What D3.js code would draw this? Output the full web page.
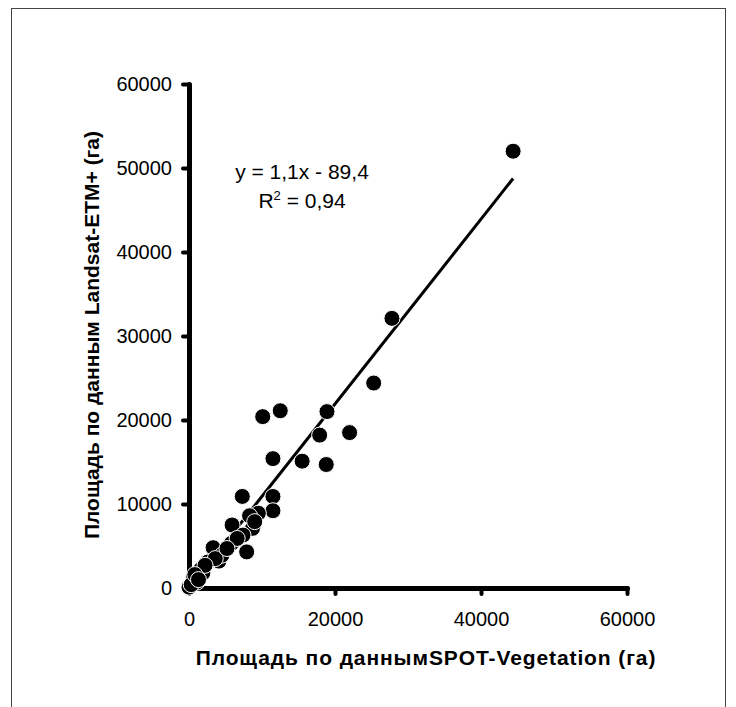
<!DOCTYPE html>
<html>
<head>
<meta charset="utf-8">
<script src="https://cdn.jsdelivr.net/npm/d3@7"></script>
<style>
  body { margin: 0; background: #fff; }
  svg { display: block; font-family: Arial, "Liberation Sans", sans-serif; }
</style>
</head>
<body>
<div id="chart"></div>
<script>
// SPOT-Vegetation area (ha)
let spotArea = [44400, 27800, 25300, 18900, 12500, 10100, 17900, 22000, 11500, 15500,
                18800, 7300, 11500, 11500, 9500, 8300, 8700, 5900, 7400, 5800,
                7900, 3300, 4100, 2600, 1600, 600, 0, 1900, 1100, 4500,
                3600, 2200, 300, 800, 1300, 6600, 9000, 5200];
// Landsat-ETM+ area (ha)
let landsatArea = [52000, 32100, 24400, 21000, 21100, 20400, 18200, 18500, 15400, 15100,
                   14700, 10900, 10900, 9200, 8900, 8600, 7100, 7500, 6300, 5300,
                   4300, 4800, 3200, 3100, 2200, 1200, 100, 1800, 700, 3900,
                   3500, 2700, 400, 1600, 1000, 5900, 7900, 4700];
let xTicks = [0, 20000, 40000, 60000];
let yTicks = [0, 10000, 20000, 30000, 40000, 50000, 60000];
let slope = 1.1, intercept = -89.4;
let eqLabel = "y = 1,1x - 89,4";
let r2Value = "0,94";
let xTitle = "Площадь по даннымSPOT-Vegetation (га)";
let yTitle = "Площадь по данным Landsat-ETM+ (га)";

let width = 736, height = 707;
let margin = {left: 189, right: 109, top: 84, bottom: 119};

let svg = d3.select("#chart").append("svg")
    .attr("width", width)
    .attr("height", height);

// outer frame
svg.append("rect")
    .attr("x", 11.5).attr("y", 8.5)
    .attr("width", 714).attr("height", 710)
    .attr("fill", "none")
    .attr("stroke", "#444")
    .attr("stroke-width", 1);

let x = d3.scaleLinear().domain([0, 60000]).range([margin.left, width - margin.right]);
let y = d3.scaleLinear().domain([0, 60000]).range([height - margin.bottom, margin.top]);

let xAxis = svg.append("g")
    .attr("transform", "translate(0," + y(0) + ")")
    .call(d3.axisBottom(x).tickValues(xTicks).tickFormat(d3.format("d"))
          .tickSize(6).tickPadding(18).tickSizeOuter(0));
let yAxis = svg.append("g")
    .attr("transform", "translate(" + x(0) + ",0)")
    .call(d3.axisLeft(y).tickValues(yTicks).tickFormat(d3.format("d"))
          .tickSize(6).tickPadding(11).tickSizeOuter(0));

[xAxis, yAxis].forEach(function(ax){
    ax.select(".domain").attr("stroke", "#000").attr("stroke-width", 5).attr("stroke-linecap", "round");
    ax.selectAll(".tick line").attr("stroke", "#000").attr("stroke-width", 4).attr("stroke-linecap", "round");
    ax.selectAll(".tick text").attr("fill", "#000").attr("font-size", 20).attr("font-family", "Arial, 'Liberation Sans', sans-serif");
});

// trend line over data range
let xMin = d3.min(spotArea), xMax = d3.max(spotArea);
svg.append("line")
    .attr("x1", x(xMin + 300)).attr("y1", y(slope * (xMin + 300) + intercept))
    .attr("x2", x(xMax)).attr("y2", y(slope * xMax + intercept))
    .attr("stroke", "#000")
    .attr("stroke-width", 3);

let pts = spotArea.map(function(d, i){ return {x: d, y: landsatArea[i]}; });
svg.append("g").selectAll("circle")
    .data(pts)
    .enter().append("circle")
    .attr("cx", function(d){ return x(d.x); })
    .attr("cy", function(d){ return y(d.y); })
    .attr("r", 8)
    .attr("fill", "#000")
    .attr("stroke", "#fff")
    .attr("stroke-width", 1);

// equation
svg.append("text")
    .text(eqLabel)
    .attr("x", 302).attr("y", 179)
    .attr("text-anchor", "middle")
    .attr("font-size", 21)
    .attr("fill", "#000");
let r2 = svg.append("text")
    .attr("x", 302).attr("y", 208)
    .attr("text-anchor", "middle")
    .attr("font-size", 21)
    .attr("fill", "#000");
r2.append("tspan").text("R");
r2.append("tspan").text("2").attr("font-size", 13).attr("dy", -8);
r2.append("tspan").text(" = " + r2Value).attr("dy", 8);

// axis titles
svg.append("text")
    .text(xTitle)
    .attr("x", 426).attr("y", 665)
    .attr("text-anchor", "middle")
    .attr("font-size", 21)
    .attr("font-weight", "bold")
    .attr("letter-spacing", 0.9)
    .attr("fill", "#000");
svg.append("text")
    .text(yTitle)
    .attr("transform", "translate(99,335) rotate(-90)")
    .attr("text-anchor", "middle")
    .attr("font-size", 21)
    .attr("font-weight", "bold")
    .attr("fill", "#000");
</script>
</body>
</html>
